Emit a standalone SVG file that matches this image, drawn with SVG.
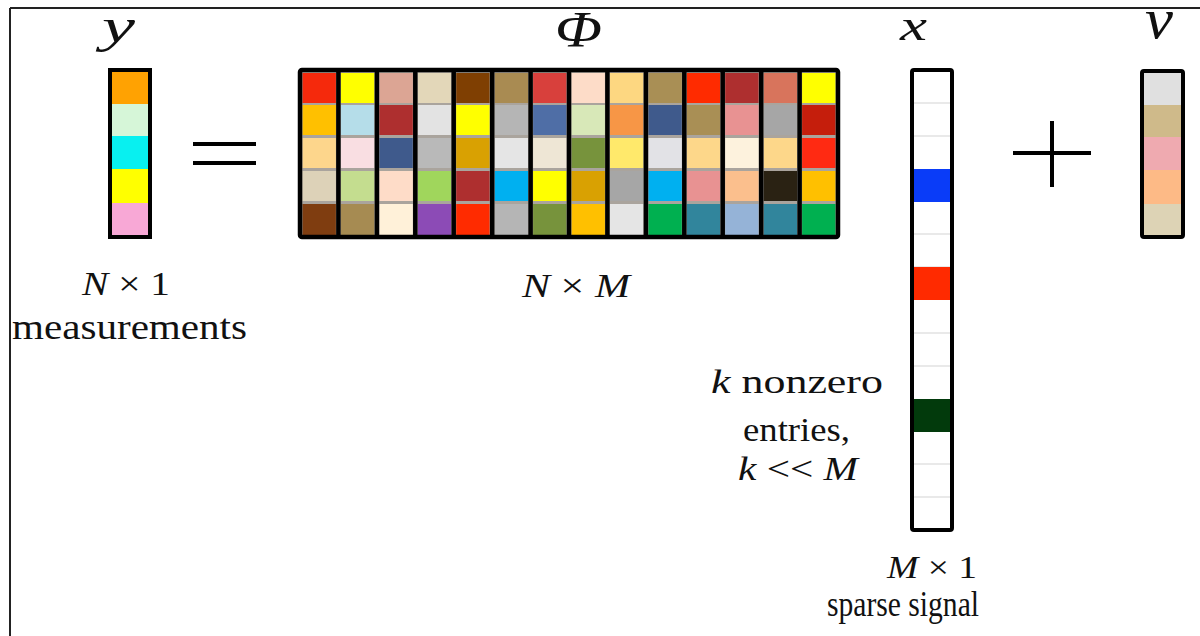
<svg xmlns="http://www.w3.org/2000/svg" width="1200" height="636" viewBox="0 0 1200 636">
<style>
text{font-family:"Liberation Serif","Times New Roman",serif;fill:#111}
.it{font-style:italic}
.box{fill:none;stroke:#000;stroke-width:4}
.sep{stroke:#d4d4d4;stroke-width:1.2}
.col{stroke:#000;stroke-width:4.5}
.op{stroke:#000;stroke-width:4;fill:none}
</style>
<rect width="1200" height="636" fill="#fff"/>
<g id="frame"><path d="M10 8H1200M10 8V636" stroke="#222" stroke-width="2" fill="none"/></g>

<g id="y-vector">
<text class="it" x="102" y="42" font-size="48" textLength="33" lengthAdjust="spacingAndGlyphs">y</text>
<rect x="110" y="70" width="40" height="34" fill="#ffa202"/>
<rect x="110" y="104" width="40" height="32" fill="#d6f6d8"/>
<rect x="110" y="136" width="40" height="33" fill="#08f0f0"/>
<rect x="110" y="169" width="40" height="34" fill="#ffff00"/>
<rect x="110" y="203" width="40" height="34" fill="#f8a8d6"/>
<rect class="box" x="110" y="70" width="40" height="167"/>
<text x="82" y="295" font-size="33" textLength="88" lengthAdjust="spacingAndGlyphs"><tspan class="it">N</tspan> × 1</text>
<text x="12" y="339" font-size="35" textLength="235" lengthAdjust="spacingAndGlyphs">measurements</text>
</g>

<g id="equals"><path class="op" d="M193 144H256M193 163H256"/></g>

<g id="phi-matrix">
<text class="it" x="555" y="46" font-size="50" textLength="47" lengthAdjust="spacingAndGlyphs">Φ</text>
<rect x="300" y="70" width="538" height="167" fill="#aaa49d"/>
<g id="c1"><rect x="302.5" y="73" width="33.4" height="30" fill="#f5290c"/><rect x="302.5" y="105" width="33.4" height="30" fill="#ffc000"/><rect x="302.5" y="138" width="33.4" height="30" fill="#fdd68c"/><rect x="302.5" y="171" width="33.4" height="30" fill="#ddd2b8"/><rect x="302.5" y="204" width="33.4" height="31" fill="#7f3d10"/></g>
<g id="c2"><rect x="340.9" y="73" width="33.4" height="30" fill="#ffff00"/><rect x="340.9" y="105" width="33.4" height="30" fill="#b5dde9"/><rect x="340.9" y="138" width="33.4" height="30" fill="#f9dee2"/><rect x="340.9" y="171" width="33.4" height="30" fill="#c4dd8f"/><rect x="340.9" y="204" width="33.4" height="31" fill="#a68b52"/></g>
<g id="c3"><rect x="379.4" y="73" width="33.4" height="30" fill="#dca594"/><rect x="379.4" y="105" width="33.4" height="30" fill="#ae2f2f"/><rect x="379.4" y="138" width="33.4" height="30" fill="#3f5a8c"/><rect x="379.4" y="171" width="33.4" height="30" fill="#fedcc8"/><rect x="379.4" y="204" width="33.4" height="31" fill="#fff1d9"/></g>
<g id="c4"><rect x="417.8" y="73" width="33.4" height="30" fill="#e3d7b9"/><rect x="417.8" y="105" width="33.4" height="30" fill="#e3e3e3"/><rect x="417.8" y="138" width="33.4" height="30" fill="#b9b9b9"/><rect x="417.8" y="171" width="33.4" height="30" fill="#a0d65c"/><rect x="417.8" y="204" width="33.4" height="31" fill="#8c4bb6"/></g>
<g id="c5"><rect x="456.2" y="73" width="33.4" height="30" fill="#7f3f02"/><rect x="456.2" y="105" width="33.4" height="30" fill="#ffff00"/><rect x="456.2" y="138" width="33.4" height="30" fill="#d9a102"/><rect x="456.2" y="171" width="33.4" height="30" fill="#ae2f2f"/><rect x="456.2" y="204" width="33.4" height="31" fill="#ff2b00"/></g>
<g id="c6"><rect x="494.7" y="73" width="33.4" height="30" fill="#a98b52"/><rect x="494.7" y="105" width="33.4" height="30" fill="#b5b5b5"/><rect x="494.7" y="138" width="33.4" height="30" fill="#e5e5e5"/><rect x="494.7" y="171" width="33.4" height="30" fill="#00b0f0"/><rect x="494.7" y="204" width="33.4" height="31" fill="#b5b5b5"/></g>
<g id="c7"><rect x="533.1" y="73" width="33.4" height="30" fill="#d8403c"/><rect x="533.1" y="105" width="33.4" height="30" fill="#4f6ea6"/><rect x="533.1" y="138" width="33.4" height="30" fill="#eee6d5"/><rect x="533.1" y="171" width="33.4" height="30" fill="#ffff00"/><rect x="533.1" y="204" width="33.4" height="31" fill="#77933c"/></g>
<g id="c8"><rect x="571.5" y="73" width="33.4" height="30" fill="#fddcc8"/><rect x="571.5" y="105" width="33.4" height="30" fill="#d8e8b8"/><rect x="571.5" y="138" width="33.4" height="30" fill="#77933c"/><rect x="571.5" y="171" width="33.4" height="30" fill="#d9a102"/><rect x="571.5" y="204" width="33.4" height="31" fill="#ffc000"/></g>
<g id="c9"><rect x="609.9" y="73" width="33.4" height="30" fill="#fdd781"/><rect x="609.9" y="105" width="33.4" height="30" fill="#f79646"/><rect x="609.9" y="138" width="33.4" height="30" fill="#ffe96b"/><rect x="609.9" y="171" width="33.4" height="30" fill="#a6a6a6"/><rect x="609.9" y="204" width="33.4" height="31" fill="#e5e5e5"/></g>
<g id="c10"><rect x="648.4" y="73" width="33.4" height="30" fill="#a98f55"/><rect x="648.4" y="105" width="33.4" height="30" fill="#3f5a8c"/><rect x="648.4" y="138" width="33.4" height="30" fill="#e2e2e6"/><rect x="648.4" y="171" width="33.4" height="30" fill="#00b0f0"/><rect x="648.4" y="204" width="33.4" height="31" fill="#00b050"/></g>
<g id="c11"><rect x="686.8" y="73" width="33.4" height="30" fill="#ff2b00"/><rect x="686.8" y="105" width="33.4" height="30" fill="#a98f55"/><rect x="686.8" y="138" width="33.4" height="30" fill="#fdd78a"/><rect x="686.8" y="171" width="33.4" height="30" fill="#e89292"/><rect x="686.8" y="204" width="33.4" height="31" fill="#31859c"/></g>
<g id="c12"><rect x="725.2" y="73" width="33.4" height="30" fill="#ae2f2f"/><rect x="725.2" y="105" width="33.4" height="30" fill="#e89292"/><rect x="725.2" y="138" width="33.4" height="30" fill="#fdf2dd"/><rect x="725.2" y="171" width="33.4" height="30" fill="#fbbf8d"/><rect x="725.2" y="204" width="33.4" height="31" fill="#95b3d7"/></g>
<g id="c13"><rect x="763.7" y="73" width="33.4" height="30" fill="#d8745c"/><rect x="763.7" y="105" width="33.4" height="30" fill="#a6a6a6"/><rect x="763.7" y="138" width="33.4" height="30" fill="#fdd78a"/><rect x="763.7" y="171" width="33.4" height="30" fill="#2a2213"/><rect x="763.7" y="204" width="33.4" height="31" fill="#31859c"/></g>
<g id="c14"><rect x="802.1" y="73" width="33.4" height="30" fill="#ffff00"/><rect x="802.1" y="105" width="33.4" height="30" fill="#c51e0c"/><rect x="802.1" y="138" width="33.4" height="30" fill="#ff2a12"/><rect x="802.1" y="171" width="33.4" height="30" fill="#ffc000"/><rect x="802.1" y="204" width="33.4" height="31" fill="#00b050"/></g>
<path class="col" d="M338.4 70V237M376.9 70V237M415.3 70V237M453.7 70V237M492.2 70V237M530.6 70V237M569 70V237M607.4 70V237M645.9 70V237M684.3 70V237M722.7 70V237M761.2 70V237M799.6 70V237"/>
<rect x="300" y="70" width="538" height="167" fill="none" stroke="#000" stroke-width="4.5" rx="2"/>
<text x="522" y="297" font-size="33" textLength="108" lengthAdjust="spacingAndGlyphs"><tspan class="it">N</tspan> × <tspan class="it">M</tspan></text>
</g>

<g id="x-vector">
<text class="it" x="900" y="40" font-size="44" textLength="27" lengthAdjust="spacingAndGlyphs">x</text>
<rect x="912" y="70" width="40" height="460" fill="#fff"/>
<path class="sep" d="M912 103H952M912 136H952M912 234H952M912 267H952M912 333H952M912 366H952M912 464H952M912 497H952"/>
<rect x="912" y="169" width="40" height="33" fill="#0a3cf8"/>
<rect x="912" y="267" width="40" height="33" fill="#ff2a00"/>
<rect x="912" y="399" width="40" height="33" fill="#023a0c"/>
<rect class="box" x="912" y="70" width="40" height="460" rx="2"/>
<text x="887" y="578" font-size="32" textLength="90" lengthAdjust="spacingAndGlyphs"><tspan class="it">M</tspan> × 1</text>
<text x="827" y="616" font-size="35" textLength="152" lengthAdjust="spacingAndGlyphs">sparse signal</text>
</g>

<g id="sparsity-note">
<text x="711" y="393" font-size="33" textLength="172" lengthAdjust="spacingAndGlyphs"><tspan class="it">k</tspan>  nonzero</text>
<text x="743" y="441" font-size="33" textLength="107" lengthAdjust="spacingAndGlyphs">entries,</text>
<text x="738" y="480" font-size="33" textLength="120" lengthAdjust="spacingAndGlyphs"><tspan class="it">k</tspan> &lt;&lt; <tspan class="it">M</tspan></text>
</g>

<g id="plus"><path class="op" d="M1013 153H1091M1052 121V187"/></g>

<g id="v-vector">
<text class="it" x="1145" y="38" font-size="58" textLength="28" lengthAdjust="spacingAndGlyphs">v</text>
<rect x="1142" y="71" width="41" height="34" fill="#e0e0e0"/>
<rect x="1142" y="105" width="41" height="32" fill="#cfba8a"/>
<rect x="1142" y="137" width="41" height="33" fill="#efaab0"/>
<rect x="1142" y="170" width="41" height="34" fill="#fdba86"/>
<rect x="1142" y="204" width="41" height="33" fill="#ddd3b5"/>
<rect class="box" x="1142" y="71" width="41" height="166" rx="2"/>
</g>
</svg>
